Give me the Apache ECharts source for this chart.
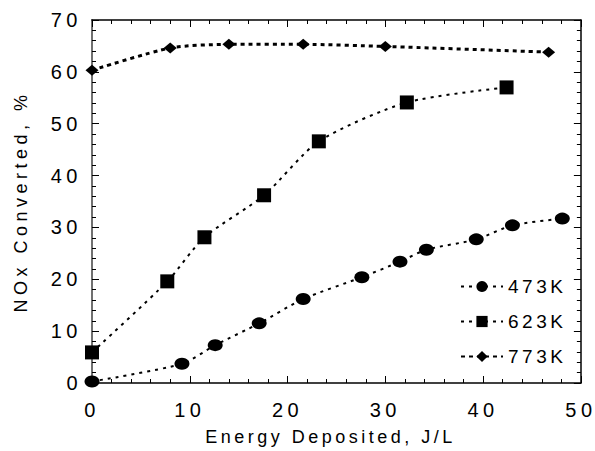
<!DOCTYPE html>
<html><head><meta charset="utf-8">
<script src="https://cdn.jsdelivr.net/npm/echarts@6/dist/echarts.min.js"></script>
<style>html,body{margin:0;padding:0;background:#fff}#c{width:595px;height:451px}</style>
</head><body><div id="c"></div>
<script>
const seriesNames = ['473K', '623K', '773K'];
const x473 = [0, 9.2, 12.6, 17.1, 21.6, 27.6, 31.5, 34.2, 39.3, 43.0, 48.1];
const y473 = [0.3, 3.7, 7.3, 11.5, 16.2, 20.4, 23.4, 25.7, 27.7, 30.4, 31.7];
const x623 = [0, 7.7, 11.5, 17.6, 23.2, 32.2, 42.4];
const y623 = [5.9, 19.6, 28.1, 36.2, 46.6, 54.1, 57.0];
const x773 = [0, 8.0, 14.0, 21.6, 30.0, 46.7];
const y773 = [60.3, 64.6, 65.3, 65.3, 64.9, 63.8];
const xTicks = [0, 10, 20, 30, 40, 50];
const yTicks = [0, 10, 20, 30, 40, 50, 60, 70];
const xTitle = 'Energy Deposited, J/L';
const yTitle = 'NOx Converted, %';

const pair = (xs, ys) => xs.map((x, i) => [x, ys[i]]);
const FONT = 'Liberation Sans, Arial, sans-serif';

const chart = echarts.init(document.getElementById('c'), null, {renderer: 'svg'});
const baseAxis = {
  min: 0, interval: 10, splitLine: {show: false},
  axisTick: {inside: true, length: 7, lineStyle: {color: '#000', width: 1}},
  minorTick: {show: true, splitNumber: 5, length: 4, lineStyle: {color: '#000', width: 1}},
  minorSplitLine: {show: false}
};
chart.setOption({
  animation: false,
  backgroundColor: '#fff',
  grid: {left: 92, right: 13, top: 20, bottom: 64},
  xAxis: [
    Object.assign({}, baseAxis, {
      type: 'value', position: 'bottom', max: xTicks[xTicks.length - 1],
      axisLine: {onZero: false, lineStyle: {color: '#000', width: 1.5}},
      axisLabel: {fontFamily: FONT, fontSize: 20, color: '#000', margin: 17},
      name: xTitle, nameLocation: 'middle', nameGap: 45,
      nameTextStyle: {fontFamily: FONT, fontSize: 18, color: '#000', padding: [0, 12, 0, 0]}
    }),
    Object.assign({}, baseAxis, {
      type: 'value', position: 'top', max: xTicks[xTicks.length - 1],
      axisLine: {onZero: false, lineStyle: {color: '#000', width: 1.5}},
      axisLabel: {show: false}
    })
  ],
  yAxis: [
    Object.assign({}, baseAxis, {
      type: 'value', position: 'left', max: yTicks[yTicks.length - 1],
      axisLine: {onZero: false, lineStyle: {color: '#707070', width: 2}},
      axisLabel: {fontFamily: FONT, fontSize: 20, color: '#000', margin: 10},
      name: yTitle, nameLocation: 'middle', nameGap: 62, nameRotate: 90,
      nameTextStyle: {fontFamily: FONT, fontSize: 18, color: '#000'}
    }),
    Object.assign({}, baseAxis, {
      type: 'value', position: 'right', max: yTicks[yTicks.length - 1],
      axisLine: {onZero: false, lineStyle: {color: '#000', width: 1.5}},
      axisLabel: {show: false}
    })
  ],
  legend: {
    orient: 'vertical', left: 455, top: 272, itemWidth: 42, itemHeight: 14, itemGap: 16,
    textStyle: {fontFamily: FONT, fontSize: 19, color: '#000'},
    data: seriesNames
  },
  series: [
    {name: seriesNames[0], type: 'line', data: pair(x473, y473), smooth: 0.25,
     symbol: 'circle', symbolSize: [15, 12], itemStyle: {color: '#000'},
     lineStyle: {color: '#000', width: 2, type: [3, 5]}},
    {name: seriesNames[1], type: 'line', data: pair(x623, y623), smooth: 0.25,
     symbol: 'rect', symbolSize: 14, itemStyle: {color: '#000'},
     lineStyle: {color: '#000', width: 2, type: [3, 5]}},
    {name: seriesNames[2], type: 'line', data: pair(x773, y773), smooth: 0.25,
     symbol: 'diamond', symbolSize: [13, 11], itemStyle: {color: '#000'},
     lineStyle: {color: '#000', width: 3, type: [4, 4]}}
  ]
});

document.querySelectorAll('#c text').forEach(t => {
  const s = t.textContent.trim();
  let ls = '3.5px';
  if (/^\d+$/.test(s)) ls = '4.5px';
  else if (s === yTitle) ls = '4.5px';
  t.style.letterSpacing = ls;
});
</script>
</body></html>
